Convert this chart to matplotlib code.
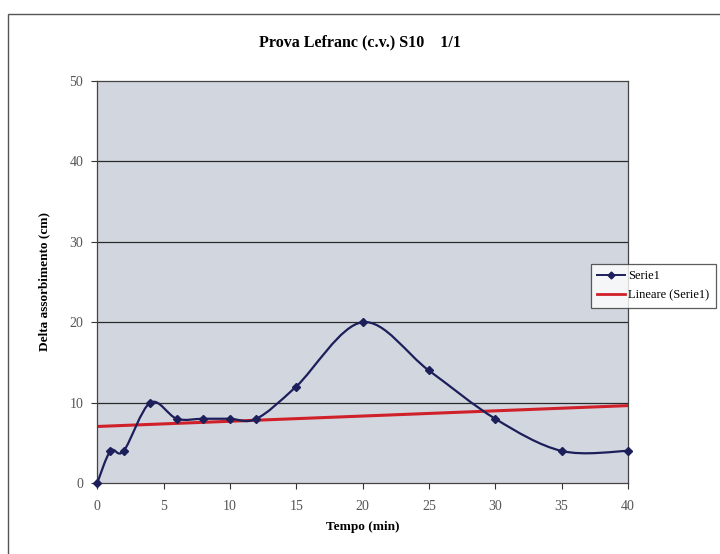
import matplotlib
matplotlib.use("Agg")
import matplotlib.pyplot as plt
import numpy as np
from matplotlib.path import Path
from matplotlib.patches import PathPatch, Rectangle
from matplotlib.lines import Line2D

plt.rcParams['font.family'] = ['Liberation Serif', 'DejaVu Serif']

#%% data
tempo = [0, 1, 2, 4, 6, 8, 10, 12, 15, 20, 25, 30, 35, 40]
delta = [0, 4, 4, 10, 8, 8, 8, 8, 12, 20, 14, 8, 4, 4]
x_ticks = [0, 5, 10, 15, 20, 25, 30, 35, 40]
y_ticks = [0, 10, 20, 30, 40, 50]

line_col = '#1c1f5a'
trend_col = '#d0202a'

#%% smooth curve like Excel (Catmull-Rom as Bezier)
def smooth_path(x, y):
    p = np.column_stack([x, y]).astype(float)
    n = len(p)
    verts = [p[0]]
    codes = [Path.MOVETO]
    for i in range(n - 1):
        p0 = p[i - 1] if i > 0 else p[i]
        p3 = p[i + 2] if i + 2 < n else p[i + 1]
        c1 = p[i] + (p[i + 1] - p0) / 6.0
        c2 = p[i + 1] - (p3 - p[i]) / 6.0
        verts += [c1, c2, p[i + 1]]
        codes += [Path.CURVE4] * 3
    return Path(verts, codes)

fig = plt.figure(figsize=(7.2, 5.54), dpi=100)
ax = fig.add_axes([0.135, 0.128, 0.737, 0.726])

# outer chart border
fig.patches.append(Rectangle((8/720, -0.05), 1.0, 1 - 14/554 + 0.05,
                             transform=fig.transFigure, fill=False,
                             edgecolor='#555555', linewidth=1.0))

ax.set_facecolor('#d2d6df')
ax.set_xlim(0, 40)
ax.set_ylim(0, 50)

for yy in y_ticks[1:-1]:
    ax.axhline(yy, color='#2a2a2a', linewidth=0.9, zorder=1)

# trend line
coef = np.polyfit(tempo, delta, 1)
xt = np.array([0, 40])
ax.plot(xt, np.polyval(coef, xt), color=trend_col, linewidth=2.2, zorder=2)

patch = PathPatch(smooth_path(tempo, delta), facecolor='none',
                  edgecolor=line_col, linewidth=1.6, zorder=3)
ax.add_patch(patch)
ax.plot(tempo, delta, linestyle='none', marker='D', markersize=4.5,
        color=line_col, zorder=4, clip_on=False)

ax.set_xticks(x_ticks)
ax.set_yticks(y_ticks)
ax.tick_params(axis='both', direction='out', length=4, labelsize=10,
               labelcolor='#555555', color='#333333')
ax.tick_params(axis='x', pad=8)
ax.tick_params(axis='y', pad=6)
for s in ax.spines.values():
    s.set_color('#444444')
    s.set_linewidth(0.9)

ax.set_xlabel('Tempo (min)', fontsize=9.5, fontweight='bold', labelpad=6)
ax.set_ylabel('Delta assorbimento (cm)', fontsize=9.5, fontweight='bold', labelpad=14)
fig.text(0.5, 1 - 42/554, 'Prova Lefranc (c.v.) S10    1/1', ha='center',
         va='center', fontsize=11.5, fontweight='bold')

handles = [Line2D([], [], color=line_col, marker='D', markersize=3.5, linewidth=1.4),
           Line2D([], [], color=trend_col, linewidth=2)]
leg = fig.legend(handles, ['Serie1', 'Lineare (Serie1)'], loc='center left',
                 bbox_to_anchor=(0.812, 0.484), fontsize=9, frameon=True,
                 fancybox=False, edgecolor='#333333', handlelength=2.2,
                 borderpad=0.5, labelspacing=0.6, handletextpad=0.3)
leg.get_frame().set_linewidth(0.9)

fig.savefig('out.png', dpi=100)
